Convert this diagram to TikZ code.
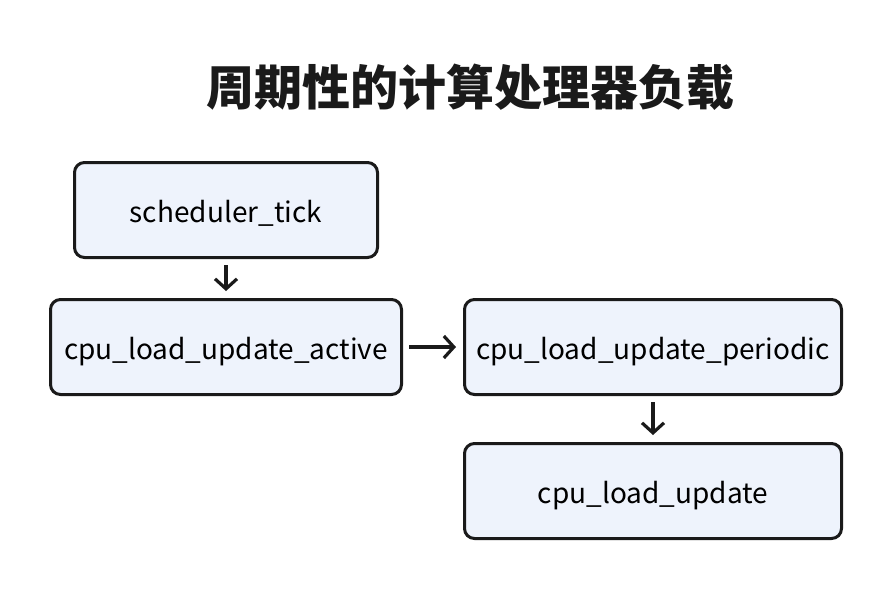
\documentclass[tikz,border=0pt]{standalone}
\usepackage{fontspec}
\setmainfont{Noto Sans CJK SC}
\usepackage{tikz}
\usetikzlibrary{arrows.meta,positioning}
\definecolor{boxfill}{HTML}{EEF3FC}
\definecolor{boxline}{HTML}{1A1A1A}

\begin{document}
\begin{tikzpicture}[x=1pt,y=-1pt,>={Straight Barb[length=10pt,width=22pt]},
  func/.style={draw=boxline,line width=3pt,fill=boxfill,rounded corners=10pt,
    minimum height=95pt,inner sep=0pt,text height=25pt,text depth=1pt,
    font=\fontsize{28}{32}\selectfont},
  flow/.style={->,draw=boxline,line width=3.2pt,shorten >=7pt,shorten <=6pt}]
  \useasboundingbox (0,0) rectangle (894,590);
  \node[font=\fontsize{48}{52}\selectfont\bfseries,text=boxline] (title) at (470,87) {周期性的计算处理器负载};
  \node[func,minimum width=303pt] (tick) at (226,210) {scheduler\_tick};
  \node[func,minimum width=351pt] (active) at (226,347) {cpu\_load\_update\_active};
  \node[func,minimum width=377pt] (periodic) at (653,347) {cpu\_load\_update\_periodic};
  \node[func,minimum width=377pt] (update) at (653,491) {cpu\_load\_update};
  \draw[flow] (tick) -- (active);
  \draw[flow] (active) -- (periodic);
  \draw[flow] (periodic) -- (update);
\end{tikzpicture}
\end{document}
